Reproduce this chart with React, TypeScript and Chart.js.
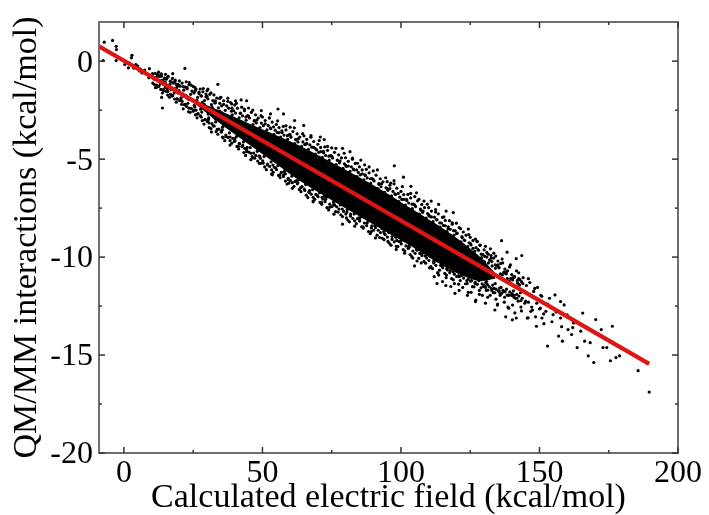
import React, { useEffect, useRef } from "react";
import { Chart, registerables } from "chart.js";

Chart.register(...registerables);

const FONT = "'Liberation Serif', 'Times New Roman', serif";

// Axis ticks
const xMajorTicks = [0, 50, 100, 150, 200];
const xMinorTicks = [25, 75, 125, 175];
const yMajorTicks = [-20, -15, -10, -5, 0];
const yMinorTicks = [-17.5, -12.5, -7.5, -2.5];

// Linear fit (red line)
const fitX = [-9, 189.6];
const fitY = [0.755, -15.45];

// Envelope of the solid (densest) part of the cloud
const coreX = [24, 38, 51, 64, 78, 91, 104, 118, 128, 134];
const coreUpper = [-1.89, -2.73, -3.54, -4.35, -5.39, -6.41, -7.55, -8.81, -9.92, -10.81];
const coreLower = [-1.99, -3.53, -4.84, -6.15, -7.34, -8.41, -9.47, -10.66, -11.22, -11.11];

// Sparse outlying points
const outlierPoints: [number, number][] = [
  [-7.1, 0.97], [-4.1, 1.06], [-2.8, 0.76], [-2.7, 0.59], [-7.5, 0.03], [-2.8, 0.03],
  [2.9, 0.3], [2.7, 0.17], [0.3, -0.17], [4.3, -0.17], [1.6, -0.34], [5.6, -0.5],
  [8.3, -0.67], [10.3, -0.64], [12.3, -0.67], [13.6, -0.76], [17.6, -0.64], [15.6, -0.84],
  [22.0, -0.37], [13.6, -1.85], [13.9, -2.39], [11.6, -1.34], [10.9, -1.18], [14.9, -1.34],
  [18.9, -1.18], [23.6, -1.09], [25.6, -1.34], [30.3, -1.43], [33.9, -1.18], [29.6, -1.68],
  [34.9, -1.85], [40.3, -2.02], [42.3, -1.98], [44.3, -2.02], [38.9, -2.18], [31.6, -3.61],
  [35.6, -3.87], [38.3, -3.87], [41.6, -4.2], [43.6, -4.45], [46.3, -4.87], [49.6, -5.21],
  [53.6, -5.8], [57.6, -5.88], [59.6, -6.22], [49.6, -2.52], [52.9, -2.69], [55.6, -2.44],
  [57.6, -2.69], [61.6, -3.03], [64.9, -3.28], [70.9, -3.87], [72.3, -4.0], [68.3, -7.14],
  [72.3, -6.89], [78.9, -8.32], [74.9, -6.72], [78.9, -4.45], [81.6, -4.62], [84.3, -5.21],
  [86.9, -5.29], [97.6, -5.34], [100.9, -5.92], [103.6, -6.39], [96.3, -6.22], [105.6, -6.72],
  [108.3, -7.14], [110.9, -7.14], [113.6, -7.31], [116.3, -7.65], [118.9, -7.73], [124.3, -8.57],
  [126.9, -9.08], [132.3, -9.58], [136.3, -9.16], [138.3, -9.75], [141.6, -10.08], [143.6, -9.92],
  [104.9, -10.45], [113.6, -10.92], [118.9, -10.76], [124.3, -11.8], [126.9, -12.27], [134.9, -12.4],
  [138.9, -12.61], [141.6, -13.11], [145.6, -13.11], [148.9, -13.53], [146.9, -12.77], [150.3, -12.61],
  [152.3, -12.77], [153.6, -12.1], [155.6, -11.93], [157.6, -12.27], [158.9, -12.44], [150.9, -13.11],
  [152.9, -14.54], [156.9, -14.03], [158.3, -14.29], [160.3, -13.7], [161.6, -13.95], [163.6, -14.62],
  [164.9, -13.78], [162.3, -13.36], [165.6, -12.86], [170.3, -13.19], [172.3, -13.7], [176.3, -13.53],
  [166.3, -14.29], [168.3, -14.37], [167.6, -15.04], [169.6, -15.38], [172.9, -14.62], [174.3, -14.62],
  [175.6, -15.29], [177.6, -15.13], [178.9, -15.04], [185.6, -15.8], [189.6, -16.89], [157.6, -13.11],
  [154.9, -12.94],
  [0.9, -0.05], [3.5, -0.35], [5.0, -0.25], [6.5, -0.6], [7.5, -0.45], [9.0, -0.85], [6.0, -0.4],
  [4.2, -0.2], [2.0, -0.1],
];

// Scattered points around the dense core
const fringePoints: [number, number][] = [
  [9.2, -0.38], [10.4, -1.12], [11.3, -0.62], [12.1, -1.31], [13.0, -0.78], [14.2, -1.45],
  [14.8, -0.88], [15.9, -1.55], [16.7, -1.02], [17.3, -1.78], [18.4, -1.05], [19.1, -1.92],
  [19.8, -1.23], [20.6, -1.98], [21.4, -1.3], [22.1, -2.2],
  [22.8, -1.35], [23.5, -2.4], [24.2, -1.22], [25.0, -2.55], [25.8, -1.5], [26.5, -2.7],
  [27.1, -1.58], [27.9, -2.85], [28.6, -1.4], [29.3, -2.98], [30.0, -1.8], [30.7, -3.15],
  [31.4, -1.62], [32.2, -3.3], [33.0, -2.02], [33.7, -3.48], [34.5, -1.9], [35.2, -3.62],
  [36.0, -2.2], [36.8, -3.85], [37.5, -2.05], [38.3, -4.05], [39.0, -2.4], [39.8, -4.1],
  [40.6, -2.15], [41.3, -4.35], [42.0, -2.65], [42.9, -4.3], [43.5, -2.45], [44.3, -4.62],
  [45.0, -2.8], [45.8, -4.7], [46.5, -2.5], [47.2, -4.95], [48.0, -3.0], [48.8, -4.85],
  [49.5, -2.78], [50.3, -5.2],
  [51.0, -3.2], [51.8, -5.3], [52.5, -2.9], [53.3, -5.55], [54.0, -3.35], [54.8, -5.45],
  [55.5, -3.05], [56.3, -5.8], [57.0, -3.55], [57.8, -5.65], [58.5, -3.3], [59.3, -6.05],
  [60.0, -3.75], [60.8, -6.2], [61.5, -3.4], [62.3, -6.1], [63.0, -3.95], [63.8, -6.45],
  [64.5, -3.7], [65.3, -6.6],
  [66.0, -4.2], [66.8, -6.7], [67.5, -3.8], [68.3, -6.95], [69.0, -4.45], [69.8, -6.85],
  [70.5, -4.05], [71.3, -7.2], [72.0, -4.6], [72.8, -7.05], [73.5, -4.35], [74.3, -7.45],
  [75.0, -4.85], [75.8, -7.3], [76.5, -4.45], [77.3, -7.7], [78.0, -5.1], [78.8, -7.55],
  [79.5, -4.7], [80.3, -8.0],
  [81.0, -5.35], [81.8, -7.8], [82.5, -4.95], [83.3, -8.15], [84.0, -5.55], [84.8, -8.0],
  [85.5, -5.05], [86.3, -8.45], [87.0, -5.8], [87.8, -8.25], [88.5, -5.4], [89.3, -8.7],
  [90.0, -6.05], [90.8, -8.5], [91.5, -5.55], [92.3, -9.0], [93.0, -6.25], [93.8, -8.7],
  [94.5, -5.95], [95.3, -9.2],
  [96.0, -6.5], [96.8, -8.95], [97.5, -6.1], [98.3, -9.45], [99.0, -6.75], [99.8, -9.2],
  [100.5, -6.4], [101.3, -9.8], [102.0, -7.05], [102.8, -9.45], [103.5, -6.75], [104.3, -10.05],
  [105.0, -7.35], [105.8, -9.65], [106.5, -7.05], [107.3, -10.3], [108.0, -7.65], [108.8, -9.95],
  [109.5, -7.3], [110.3, -10.55],
  [111.0, -7.95], [111.8, -10.2], [112.5, -7.7], [113.3, -10.8], [114.0, -8.25], [114.8, -10.45],
  [115.5, -7.95], [116.3, -11.05], [117.0, -8.55], [117.8, -10.7], [118.5, -8.25], [119.3, -11.35],
  [120.0, -8.8], [120.8, -10.95], [121.5, -8.55], [122.3, -11.55], [123.0, -9.15], [123.8, -11.2],
  [124.5, -8.85], [125.3, -11.8],
  [126.0, -9.55], [126.8, -11.35], [127.5, -9.2], [128.3, -11.9], [129.0, -9.85], [129.8, -11.5],
  [130.5, -9.45], [131.3, -12.05], [132.0, -10.15], [132.8, -11.7], [133.5, -9.8], [134.3, -12.15],
  [135.0, -10.4], [135.8, -11.85], [136.5, -10.1], [137.3, -12.3], [138.0, -10.75], [138.8, -11.95],
  [139.5, -10.4], [140.3, -12.45], [141.0, -11.0], [141.8, -12.1], [142.5, -10.8], [143.3, -12.55],
  [144.0, -11.35], [145.0, -12.25], [146.0, -11.1], [147.5, -12.7], [148.3, -11.6], [149.0, -12.35],
  [150.5, -11.95], [151.5, -12.9], [153.0, -12.4], [154.5, -13.3], [156.0, -12.8], [158.0, -13.55],
  [160.0, -12.95], [162.0, -13.6],
];

// Points hugging the edges of the dense core
const edgePoints: [number, number][] = [
  [20, -1.25], [28, -1.78], [33, -2.12], [38.8, -2.55], [44, -2.85], [47, -3.05], [53, -3.45],
  [56, -3.65], [59, -3.8], [62, -4.0], [65.5, -4.25], [68.5, -4.4], [71, -4.62], [74, -4.85],
  [77, -5.05], [80, -5.3], [83, -5.55], [86, -5.75], [89, -6.0], [92, -6.25], [95, -6.5],
  [98, -6.8], [101, -7.05], [104, -7.3], [107, -7.55], [110, -7.85], [113, -8.1], [116, -8.4],
  [119, -8.65], [122, -8.95], [125, -9.3], [128, -9.65], [131, -10.0], [134, -10.4],
  [21, -2.05], [26, -2.5], [30.5, -2.98], [35.5, -3.5], [40, -3.95], [44.5, -4.4], [49, -4.85],
  [53.8, -5.3], [58.3, -5.75], [62.8, -6.2], [67, -6.6], [71.5, -6.95], [76, -7.35], [80.5, -7.7],
  [85, -8.05], [89.5, -8.4], [94, -8.8], [98.5, -9.15], [103, -9.5], [107.5, -9.85], [112, -10.25],
  [116.5, -10.6], [121, -11.0], [125.5, -11.2], [130.5, -11.55], [135.5, -11.75], [140, -11.95],
];

// Points close to the fit line at the thin left end of the cloud
const nearLinePoints: [number, number][] = [
  [10.5, -0.8], [10.9, -0.92], [11.8, -0.9], [13.2, -1.1], [13.6, -0.98], [14.5, -1.2], [14.9, -1.08],
  [16.2, -1.28], [16.5, -1.36], [17.0, -1.45], [18.0, -1.4], [18.4, -1.52], [19.5, -1.62], [19.9, -1.5],
  [21.0, -1.66], [21.5, -1.78], [22.3, -1.75], [22.7, -1.88], [23.4, -1.95],
  [26.3, -2.0], [27.7, -2.45], [29.0, -2.2], [30.4, -2.7], [31.8, -2.35], [33.1, -2.95], [34.6, -2.55],
  [36.0, -3.25], [25.4, -2.25], [28.3, -2.1], [32.4, -2.85], [35.2, -2.62], [37.0, -3.3],
];

// Points of the wide, speckled right end of the cloud
const rightEndPoints: [number, number][] = [
  [128.6, -9.4], [129.4, -11.95], [130.2, -10.25], [130.9, -11.25], [131.5, -9.85], [132.2, -11.95],
  [132.9, -10.45], [133.6, -11.6], [134.2, -9.95], [134.8, -12.45], [135.4, -10.55], [136.1, -11.55],
  [136.7, -10.3], [137.4, -12.05], [138.0, -10.85], [138.6, -12.55], [139.2, -10.5], [139.9, -11.95],
  [140.5, -11.05], [141.1, -12.85], [141.7, -10.7], [142.3, -12.25], [142.9, -11.15], [143.5, -12.75],
  [144.1, -11.05], [144.7, -12.35], [145.3, -11.45], [145.9, -13.1], [146.5, -11.3], [147.2, -12.55],
  [147.9, -11.75], [148.6, -13.05], [149.3, -11.55], [150.0, -12.65], [150.8, -12.0], [151.6, -13.4],
  [130.5, -12.35], [133.9, -12.7], [137.8, -13.05], [140.2, -13.2], [127.0, -12.2], [124.0, -11.95],
  [121.0, -11.7], [118.0, -11.5], [115.0, -11.25], [112.0, -11.0], [119.5, -11.85], [116.2, -11.45],
  [113.0, -11.35],
  [128.2, -10.95], [129.7, -10.2], [131.2, -11.4], [132.6, -10.05], [134.0, -11.35], [135.9, -10.85],
  [137.1, -11.75], [138.4, -11.1], [140.8, -11.95], [142.0, -11.2], [143.8, -12.1], [146.0, -12.3],
];

// Dense speckled transition just outside the solid core
const transitionPoints: [number, number][] = [
  [11.6, -0.83], [12.8, -0.78], [12.1, -0.71], [13.5, -0.65], [12.5, -0.56], [13.1, -1.17], [11.8, -1.22], [12.6, -1.29], [11.4, -1.35], [13.3, -1.44],
  [14.1, -0.98], [15.3, -0.92], [14.6, -0.86], [16.0, -0.78], [15.0, -0.67], [15.6, -1.42], [14.3, -1.48], [15.1, -1.54], [13.9, -1.62], [15.8, -1.73],
  [16.6, -1.18], [17.8, -1.12], [17.1, -1.05], [18.5, -0.97], [17.5, -0.88], [18.1, -1.63], [16.8, -1.69], [17.6, -1.76], [16.4, -1.84], [18.3, -1.93],
  [19.1, -1.34], [20.3, -1.28], [19.6, -1.2], [21.0, -1.12], [20.0, -1.01], [20.6, -1.87], [19.3, -1.93], [20.1, -2.01], [18.9, -2.09], [20.8, -2.2],
  [21.6, -1.48], [22.8, -1.41], [22.1, -1.32], [23.5, -1.2], [22.5, -1.05], [23.1, -2.15], [21.8, -2.22], [22.6, -2.31], [21.4, -2.43], [23.3, -2.58],
  [24.1, -1.69], [25.3, -1.62], [24.6, -1.53], [26.0, -1.42], [25.0, -1.29], [25.6, -2.34], [24.3, -2.41], [25.1, -2.5], [23.9, -2.61], [25.8, -2.74],
  [26.6, -1.85], [27.8, -1.77], [27.1, -1.66], [28.5, -1.56], [27.5, -1.42], [28.1, -2.6], [26.8, -2.68], [27.6, -2.79], [26.4, -2.89], [28.3, -3.03],
  [29.1, -2.01], [30.3, -1.92], [29.6, -1.82], [31.0, -1.69], [30.0, -1.51], [30.6, -2.89], [29.3, -2.98], [30.1, -3.08], [28.9, -3.21], [30.8, -3.39],
  [31.6, -2.22], [32.8, -2.13], [32.1, -2.01], [33.5, -1.88], [32.5, -1.72], [33.1, -3.1], [31.8, -3.19], [32.6, -3.31], [31.4, -3.44], [33.3, -3.6],
  [34.1, -2.38], [35.3, -2.28], [34.6, -2.15], [36.0, -2.02], [35.0, -1.84], [35.6, -3.37], [34.3, -3.47], [35.1, -3.6], [33.9, -3.73], [35.8, -3.91],
  [36.6, -2.51], [37.8, -2.4], [37.1, -2.28], [38.5, -2.11], [37.5, -1.89], [38.1, -3.66], [36.8, -3.77], [37.6, -3.89], [36.4, -4.06], [38.3, -4.28],
  [39.1, -2.74], [40.3, -2.65], [39.6, -2.53], [41.0, -2.4], [40.0, -2.24], [40.6, -3.85], [39.3, -3.94], [40.1, -4.06], [38.9, -4.19], [40.8, -4.35],
  [41.6, -2.89], [42.8, -2.79], [42.1, -2.66], [43.5, -2.53], [42.5, -2.35], [43.1, -4.12], [41.8, -4.22], [42.6, -4.35], [41.4, -4.48], [43.3, -4.66],
  [44.1, -3.01], [45.3, -2.9], [44.6, -2.78], [46.0, -2.61], [45.0, -2.39], [45.6, -4.41], [44.3, -4.52], [45.1, -4.64], [43.9, -4.81], [45.8, -5.03],
  [46.6, -3.24], [47.8, -3.15], [47.1, -3.03], [48.5, -2.9], [47.5, -2.74], [48.1, -4.6], [46.8, -4.69], [47.6, -4.81], [46.4, -4.94], [48.3, -5.1],
  [49.1, -3.39], [50.3, -3.29], [49.6, -3.16], [51.0, -3.03], [50.0, -2.85], [50.6, -4.86], [49.3, -4.96], [50.1, -5.09], [48.9, -5.22], [50.8, -5.4],
  [51.6, -3.51], [52.8, -3.4], [52.1, -3.28], [53.5, -3.11], [52.5, -2.89], [53.1, -5.14], [51.8, -5.25], [52.6, -5.37], [51.4, -5.54], [53.3, -5.76],
  [54.1, -3.73], [55.3, -3.64], [54.6, -3.52], [56.0, -3.39], [55.0, -3.23], [55.6, -5.33], [54.3, -5.42], [55.1, -5.54], [53.9, -5.67], [55.8, -5.83],
  [56.6, -3.87], [57.8, -3.77], [57.1, -3.64], [58.5, -3.51], [57.5, -3.33], [58.1, -5.58], [56.8, -5.68], [57.6, -5.81], [56.4, -5.94], [58.3, -6.12],
  [59.1, -3.99], [60.3, -3.88], [59.6, -3.76], [61.0, -3.59], [60.0, -3.37], [60.6, -5.87], [59.3, -5.98], [60.1, -6.1], [58.9, -6.27], [60.8, -6.49],
  [61.6, -4.21], [62.8, -4.12], [62.1, -4.0], [63.5, -3.87], [62.5, -3.71], [63.1, -6.05], [61.8, -6.14], [62.6, -6.26], [61.4, -6.39], [63.3, -6.55],
  [64.1, -4.35], [65.3, -4.25], [64.6, -4.12], [66.0, -3.99], [65.0, -3.81], [65.6, -6.3], [64.3, -6.4], [65.1, -6.53], [63.9, -6.66], [65.8, -6.84],
  [66.6, -4.5], [67.8, -4.39], [67.1, -4.27], [68.5, -4.1], [67.5, -3.88], [68.1, -6.56], [66.8, -6.67], [67.6, -6.79], [66.4, -6.96], [68.3, -7.18],
  [69.1, -4.74], [70.3, -4.65], [69.6, -4.53], [71.0, -4.4], [70.0, -4.24], [70.6, -6.71], [69.3, -6.8], [70.1, -6.92], [68.9, -7.05], [70.8, -7.21],
  [71.6, -4.91], [72.8, -4.81], [72.1, -4.68], [73.5, -4.55], [72.5, -4.37], [73.1, -6.94], [71.8, -7.04], [72.6, -7.17], [71.4, -7.3], [73.3, -7.48],
  [74.1, -5.05], [75.3, -4.94], [74.6, -4.82], [76.0, -4.65], [75.0, -4.43], [75.6, -7.19], [74.3, -7.3], [75.1, -7.42], [73.9, -7.59], [75.8, -7.81],
  [76.6, -5.28], [77.8, -5.19], [77.1, -5.07], [78.5, -4.94], [77.5, -4.78], [78.1, -7.34], [76.8, -7.43], [77.6, -7.55], [76.4, -7.68], [78.3, -7.84],
  [79.1, -5.47], [80.3, -5.37], [79.6, -5.24], [81.0, -5.11], [80.0, -4.93], [80.6, -7.57], [79.3, -7.67], [80.1, -7.8], [78.9, -7.93], [80.8, -8.11],
  [81.6, -5.62], [82.8, -5.51], [82.1, -5.39], [83.5, -5.22], [82.5, -5.0], [83.1, -7.8], [81.8, -7.91], [82.6, -8.03], [81.4, -8.2], [83.3, -8.42],
  [84.1, -5.89], [85.3, -5.8], [84.6, -5.68], [86.0, -5.55], [85.0, -5.39], [85.6, -7.95], [84.3, -8.04], [85.1, -8.16], [83.9, -8.29], [85.8, -8.45],
  [86.6, -6.06], [87.8, -5.96], [87.1, -5.83], [88.5, -5.7], [87.5, -5.52], [88.1, -8.16], [86.8, -8.26], [87.6, -8.39], [86.4, -8.52], [88.3, -8.7],
  [89.1, -6.22], [90.3, -6.11], [89.6, -5.99], [91.0, -5.82], [90.0, -5.6], [90.6, -8.4], [89.3, -8.51], [90.1, -8.63], [88.9, -8.8], [90.8, -9.02],
  [91.6, -6.5], [92.8, -6.41], [92.1, -6.29], [93.5, -6.16], [92.5, -6.0], [93.1, -8.54], [91.8, -8.63], [92.6, -8.75], [91.4, -8.88], [93.3, -9.04],
  [94.1, -6.69], [95.3, -6.59], [94.6, -6.46], [96.0, -6.33], [95.0, -6.15], [95.6, -8.75], [94.3, -8.85], [95.1, -8.98], [93.9, -9.11], [95.8, -9.29],
  [96.6, -6.88], [97.8, -6.77], [97.1, -6.65], [98.5, -6.48], [97.5, -6.26], [98.1, -8.99], [96.8, -9.1], [97.6, -9.22], [96.4, -9.39], [98.3, -9.61],
  [99.1, -7.15], [100.3, -7.06], [99.6, -6.94], [101.0, -6.81], [100.0, -6.65], [100.6, -9.12], [99.3, -9.21], [100.1, -9.33], [98.9, -9.46], [100.8, -9.62],
  [101.6, -7.34], [102.8, -7.24], [102.1, -7.11], [103.5, -6.98], [102.5, -6.8], [103.1, -9.33], [101.8, -9.43], [102.6, -9.56], [101.4, -9.69], [103.3, -9.87],
  [104.1, -7.53], [105.3, -7.42], [104.6, -7.3], [106.0, -7.13], [105.0, -6.91], [105.6, -9.58], [104.3, -9.69], [105.1, -9.81], [103.9, -9.98], [105.8, -10.2],
  [106.6, -7.81], [107.8, -7.72], [107.1, -7.6], [108.5, -7.47], [107.5, -7.31], [108.1, -9.72], [106.8, -9.81], [107.6, -9.93], [106.4, -10.06], [108.3, -10.22],
  [109.1, -8.01], [110.3, -7.91], [109.6, -7.78], [111.0, -7.65], [110.0, -7.47], [110.6, -9.95], [109.3, -10.05], [110.1, -10.18], [108.9, -10.31], [110.8, -10.49],
  [111.6, -8.19], [112.8, -8.08], [112.1, -7.96], [113.5, -7.79], [112.5, -7.57], [113.1, -10.19], [111.8, -10.3], [112.6, -10.42], [111.4, -10.59], [113.3, -10.81],
  [114.1, -8.47], [115.3, -8.38], [114.6, -8.26], [116.0, -8.13], [115.0, -7.97], [115.6, -10.33], [114.3, -10.42], [115.1, -10.54], [113.9, -10.67], [115.8, -10.83],
  [116.6, -8.68], [117.8, -8.58], [117.1, -8.45], [118.5, -8.32], [117.5, -8.14], [118.1, -10.56], [116.8, -10.66], [117.6, -10.79], [116.4, -10.92], [118.3, -11.1],
  [119.1, -8.89], [120.3, -8.78], [119.6, -8.66], [121.0, -8.49], [120.0, -8.27], [120.6, -10.76], [119.3, -10.87], [120.1, -10.99], [118.9, -11.16], [120.8, -11.38],
  [121.6, -9.22], [122.8, -9.13], [122.1, -9.01], [123.5, -8.88], [122.5, -8.72], [123.1, -10.86], [121.8, -10.95], [122.6, -11.07], [121.4, -11.2], [123.3, -11.36],
  [124.1, -9.47], [125.3, -9.38], [124.6, -9.27], [126.0, -9.15], [125.0, -8.99], [125.6, -11.03], [124.3, -11.12], [125.1, -11.23], [123.9, -11.35], [125.8, -11.51],
  [126.6, -9.71], [127.8, -9.62], [127.1, -9.52], [128.5, -9.39], [127.5, -9.21], [128.1, -11.2], [126.8, -11.29], [127.6, -11.39], [126.4, -11.52], [128.3, -11.7],
  [129.1, -10.03], [130.3, -9.96], [129.6, -9.87], [131.0, -9.76], [130.0, -9.63], [130.6, -11.3], [129.3, -11.37], [130.1, -11.46], [128.9, -11.57], [130.8, -11.7],
  [131.6, -10.3], [132.8, -10.23], [132.1, -10.14], [133.5, -10.05], [132.5, -9.92], [133.1, -11.43], [131.8, -11.5], [132.6, -11.59], [131.4, -11.68], [133.3, -11.81],
  [134.1, -10.57], [135.3, -10.51], [134.6, -10.43], [136.0, -10.33], [135.0, -10.2], [135.6, -11.58], [134.3, -11.64], [135.1, -11.72], [133.9, -11.82], [135.8, -11.95],
  [136.6, -10.91], [137.8, -10.85], [137.1, -10.78], [138.5, -10.7], [137.5, -10.61], [138.1, -11.64], [136.8, -11.7], [137.6, -11.77], [136.4, -11.85], [138.3, -11.94],
  [139.1, -11.23], [140.3, -11.17], [139.6, -11.09], [141.0, -11.01], [140.0, -10.9], [140.6, -11.72], [139.3, -11.78], [140.1, -11.86], [138.9, -11.94], [140.8, -12.05],
  [141.6, -11.5], [142.8, -11.42], [142.1, -11.33], [143.5, -11.25], [142.5, -11.1], [143.1, -11.82], [141.8, -11.9], [142.6, -11.99], [141.4, -12.1], [143.3, -12.22],
];

const framePlugin = {
  id: "frameTicks",
  afterDatasetsDraw(chart: any) {
    const { ctx, chartArea, scales } = chart;
    const { left, right, top, bottom } = chartArea;
    const xs = scales.x;
    const ys = scales.y;
    ctx.save();
    ctx.strokeStyle = "#6f6f6f";
    ctx.lineWidth = 2;
    ctx.strokeRect(left, top, right - left, bottom - top);
    ctx.strokeStyle = "#333333";
    ctx.lineWidth = 1.5;
    const seg = (x1: number, y1: number, x2: number, y2: number) => {
      ctx.beginPath();
      ctx.moveTo(x1, y1);
      ctx.lineTo(x2, y2);
      ctx.stroke();
    };
    const xt = (vals: number[], len: number) => {
      for (const v of vals) {
        const p = xs.getPixelForValue(v);
        seg(p, bottom, p, bottom - len);
        seg(p, top, p, top + len);
      }
    };
    const yt = (vals: number[], len: number) => {
      for (const v of vals) {
        const p = ys.getPixelForValue(v);
        seg(left, p, left + len, p);
        seg(right, p, right - len, p);
      }
    };
    xt(xMajorTicks, 6);
    xt(xMinorTicks, 3);
    yt(yMajorTicks, 6);
    yt(yMinorTicks, 3);
    ctx.restore();
  },
};

export default function App() {
  const ref = useRef<HTMLCanvasElement | null>(null);

  useEffect(() => {
    if (!ref.current) return;
    const toXY = (arr: [number, number][]) => arr.map(([x, y]) => ({ x, y }));
    const chart = new Chart(ref.current, {
      type: "scatter",
      data: {
        datasets: [
          {
            label: "fit",
            data: fitX.map((x, i) => ({ x, y: fitY[i] })),
            showLine: true,
            borderColor: "#dd1515",
            borderWidth: 4.2,
            pointRadius: 0,
            fill: false,
          } as any,
          {
            label: "points",
            data: [
              ...toXY(outlierPoints),
              ...toXY(fringePoints),
              ...toXY(edgePoints),
              ...toXY(nearLinePoints),
              ...toXY(rightEndPoints),
              ...toXY(transitionPoints),
            ],
            backgroundColor: "#000",
            borderWidth: 0,
            pointRadius: 1.6,
          },
          {
            label: "coreUpper",
            data: coreX.map((x, i) => ({ x, y: coreUpper[i] })),
            showLine: true,
            borderWidth: 0,
            borderColor: "rgba(0,0,0,0)",
            backgroundColor: "#000",
            pointRadius: 0,
            tension: 0.3,
            fill: "+1",
          } as any,
          {
            label: "coreLower",
            data: coreX.map((x, i) => ({ x, y: coreLower[i] })),
            showLine: true,
            borderWidth: 0,
            borderColor: "rgba(0,0,0,0)",
            pointRadius: 0,
            tension: 0.3,
            fill: false,
          } as any,
        ],
      },
      options: {
        responsive: false,
        animation: false,
        layout: { padding: { left: 0, top: 16, right: 31, bottom: 0 } },
        plugins: {
          legend: { display: false },
          tooltip: { enabled: false },
        },
        scales: {
          x: {
            type: "linear",
            min: -9,
            max: 200,
            grid: { display: false, drawTicks: false },
            border: { display: false },
            ticks: {
              stepSize: 50,
              includeBounds: false,
              autoSkip: false,
              maxRotation: 0,
              padding: 5,
              color: "#000",
              font: { family: FONT, size: 32, lineHeight: 1 },
            },
            title: {
              display: true,
              text: "Calculated electric field (kcal/mol)",
              color: "#000",
              font: { family: FONT, size: 34, lineHeight: 1 },
              padding: { top: 0, bottom: 0 },
            },
            afterFit: (s: any) => {
              s.height = 62;
            },
          },
          y: {
            type: "linear",
            min: -20,
            max: 2,
            grid: { display: false, drawTicks: false },
            border: { display: false },
            ticks: {
              stepSize: 5,
              includeBounds: false,
              autoSkip: false,
              padding: 6,
              labelOffset: 2,
              color: "#000",
              font: { family: FONT, size: 32, lineHeight: 1 },
            },
            title: {
              display: true,
              text: "QM/MM interactions (kcal/mol)",
              color: "#000",
              font: { family: FONT, size: 34, lineHeight: 1 },
              padding: { top: 10, bottom: 0 },
            },
            afterFit: (s: any) => {
              s.width = 99;
            },
          },
        },
      } as any,
      plugins: [framePlugin],
    });
    return () => chart.destroy();
  }, []);

  return (
    <div style={{ position: "fixed", left: 0, top: 0, width: 709, height: 515, background: "#fff" }}>
      <canvas ref={ref} width={709} height={515} style={{ width: 709, height: 515, display: "block" }} />
    </div>
  );
}
